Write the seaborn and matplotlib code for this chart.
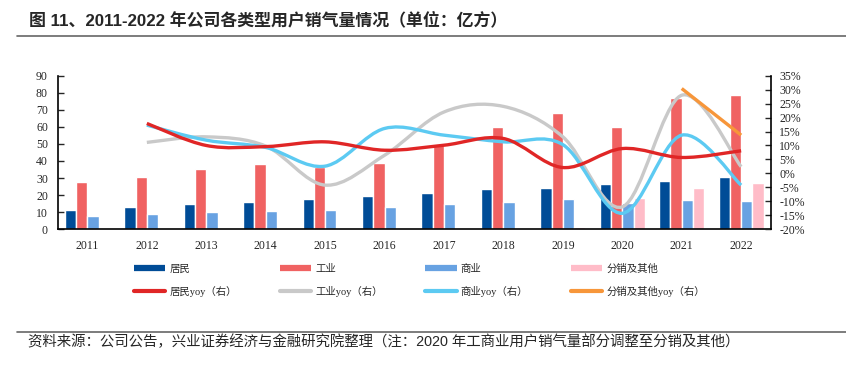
import numpy as np
import pandas as pd
import matplotlib
matplotlib.use("Agg")
import matplotlib.pyplot as plt
import seaborn as sns
from matplotlib.path import Path
from matplotlib.patches import PathPatch
from matplotlib.lines import Line2D

# ---- data (亿方 / %) ----
years = ["2011", "2012", "2013", "2014", "2015", "2016",
         "2017", "2018", "2019", "2020", "2021", "2022"]
resident = [11.1, 13.2, 14.6, 16.0, 17.7, 19.3, 21.3, 23.8, 24.4, 26.4, 28.1, 30.5]
industry = [27.9, 30.8, 35.1, 38.3, 36.5, 39.0, 49.5, 60.1, 68.0, 60.1, 76.7, 78.7]
commerce = [7.8, 9.0, 10.0, 10.7, 11.3, 12.9, 14.8, 16.2, 17.6, 15.2, 17.2, 16.4]
distrib = [None, None, None, None, None, None, None, None, 1.3, 18.5, 24.0, 27.1]

resident_yoy = [None, 17.9, 10.0, 9.6, 11.3, 8.3, 10.1, 12.5, 2.1, 8.9, 5.7, 8.1]
industry_yoy = [None, 11.1, 13.1, 9.8, -4.2, 6.5, 22.0, 24.0, 13.1, -12.0, 28.0, 2.4]
commerce_yoy = [None, 17.3, 11.9, 9.3, 2.6, 16.1, 13.7, 11.3, 10.3, -14.3, 13.7, -4.2]
distrib_yoy = [None, None, None, None, None, None, None, None, None, None, 30.4, 13.7]

bar_names = ["居民", "工业", "商业", "分销及其他"]
bar_colors = ["#004C97", "#F06262", "#68A2E2", "#FFBCC8"]
line_names = ["居民yoy（右）", "工业yoy（右）", "商业yoy（右）", "分销及其他yoy（右）"]
line_colors = ["#E02626", "#C9C9C9", "#5CCAF2", "#F7963A"]

rows = []
for name, vals in zip(bar_names, [resident, industry, commerce, distrib]):
    for y, v in zip(years, vals):
        if v is not None:
            rows.append({"year": y, "type": name, "value": v})
df = pd.DataFrame(rows)

sns.set_style("white")
plt.rcParams["font.family"] = ["Liberation Serif", "Noto Sans CJK SC"]
plt.rcParams["axes.unicode_minus"] = False

fig = plt.figure(figsize=(8.46, 3.65), dpi=100)
ax = fig.add_axes([0.0682, 0.372, 0.843, 0.4206])

sns.barplot(data=df, x="year", y="value", hue="type", order=years,
            hue_order=bar_names, palette=bar_colors, width=0.76, gap=0,
            saturation=1, errorbar=None, legend=False, ax=ax)

ax.set_xlim(-0.5, 11.5)
ax.set_ylim(0, 90)
ax.set_yticks(range(0, 91, 10))
ax.set_xlabel("")
ax.set_ylabel("")
for s in ["top", "right"]:
    ax.spines[s].set_visible(False)
for s in ["left", "bottom"]:
    ax.spines[s].set_color("black")
    ax.spines[s].set_linewidth(1.2)
ax.tick_params(axis="y", direction="in", length=4, width=1, pad=7, labelsize=8.5, left=True)
ax.tick_params(axis="x", length=0, pad=8, labelsize=8.5)

ax2 = ax.twinx()
ax2.set_ylim(-20, 35)
pticks = list(range(-20, 36, 5))
ax2.set_yticks(pticks)
ax2.set_yticklabels([f"{t}%" for t in pticks])
for s in ["top", "left", "bottom"]:
    ax2.spines[s].set_visible(False)
ax2.spines["right"].set_color("black")
ax2.spines["right"].set_linewidth(1.2)
ax2.tick_params(axis="y", direction="in", length=4, width=1, pad=6, labelsize=8.5, right=True)


def smooth_path(xs, ys):
    # Excel-like smoothed line through the points (bezier segments)
    n = len(xs)
    verts = [(xs[0], ys[0])]
    codes = [Path.MOVETO]
    for i in range(n - 1):
        a = i - 1 if i > 0 else i
        d = i + 2 if i + 2 < n else i + 1
        c1 = (xs[i] + (xs[i + 1] - xs[a]) / 6, ys[i] + (ys[i + 1] - ys[a]) / 6)
        c2 = (xs[i + 1] - (xs[d] - xs[i]) / 6, ys[i + 1] - (ys[d] - ys[i]) / 6)
        verts += [c1, c2, (xs[i + 1], ys[i + 1])]
        codes += [Path.CURVE4] * 3
    return Path(verts, codes)


for vals, col in zip([industry_yoy, commerce_yoy, resident_yoy, distrib_yoy],
                     [line_colors[1], line_colors[2], line_colors[0], line_colors[3]]):
    xs = [i for i, v in enumerate(vals) if v is not None]
    ys = [v for v in vals if v is not None]
    patch = PathPatch(smooth_path(xs, ys), fill=False, edgecolor=col, lw=2.4,
                      capstyle="butt", transform=ax2.transData)
    ax2.add_patch(patch)

# legend
handles, labels = [], []
for bn, bc, ln, lc in zip(bar_names, bar_colors, line_names, line_colors):
    handles.append(Line2D([], [], color=bc, lw=4.5, solid_capstyle="butt"))
    labels.append(bn)
    handles.append(Line2D([], [], color=lc, lw=3, solid_capstyle="round"))
    labels.append(ln)
fig.legend(handles, labels, ncol=4, loc="upper left",
           bbox_to_anchor=(134 / 846, 1 - 264 / 365), frameon=False,
           handlelength=3.0, handletextpad=0.4, columnspacing=4.1,
           labelspacing=1.1, borderpad=0, borderaxespad=0,
           prop={"family": ["Liberation Serif", "Noto Sans CJK SC"], "size": 7.5})

# title / source
fig.text(29 / 846, 1 - 20 / 365, "图 11、2011-2022 年公司各类型用户销气量情况（单位：亿方）",
         ha="left", va="center", fontsize=12.2, fontweight="bold",
         family=["Liberation Sans", "Noto Sans CJK SC"])
fig.add_artist(Line2D([17 / 846, 1], [1 - 36 / 365] * 2, color="#666666", lw=1.2))
fig.add_artist(Line2D([17 / 846, 1], [1 - 332 / 365] * 2, color="#666666", lw=1.2))
fig.text(28 / 846, 1 - 342 / 365,
         "资料来源：公司公告，兴业证券经济与金融研究院整理（注：2020 年工商业用户销气量部分调整至分销及其他）",
         ha="left", va="center", fontsize=10.4,
         family=["Liberation Sans", "Noto Sans CJK SC"])

fig.savefig("out.png", dpi=100)
